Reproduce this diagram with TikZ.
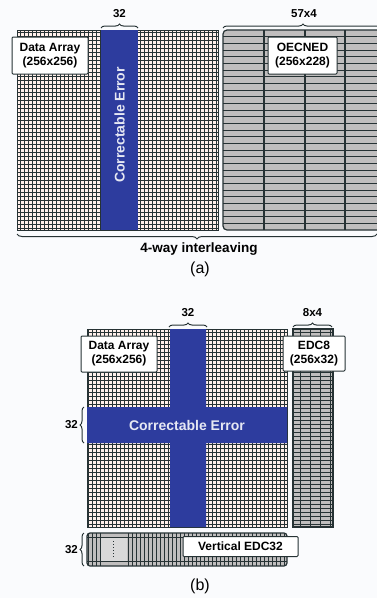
\documentclass[tikz,border=0pt]{standalone}
\usepackage{fontspec}
\setmainfont{Liberation Sans}
\usetikzlibrary{positioning, calc, decorations.pathreplacing}
\definecolor{cblue}{RGB}{45,60,158}
\definecolor{cgrid}{RGB}{38,50,52}
\definecolor{ccell}{RGB}{255,240,235}
\definecolor{cgray}{RGB}{192,190,190}
\definecolor{cbg}{RGB}{250,251,253}

\begin{document}
\begin{tikzpicture}[x=1pt, y=-1pt,
    lbl/.style={draw=cgrid, fill=white, line width=1pt, rounded corners=1pt, align=center, font=\fontsize{12}{14}\selectfont\bfseries, inner sep=2pt},
    num/.style={font=\fontsize{11.5}{13}\selectfont\bfseries, inner sep=1pt},
    errtxt/.style={font=\fontsize{14}{16}\selectfont\bfseries, text=white!88!cblue},
    subcap/.style={font=\fontsize{16}{18}\selectfont},
    brc/.style={decorate, decoration={brace, amplitude=4pt}, line width=1pt, cgrid},
    gridln/.style={cgrid, line width=0.95pt}
]
\fill[cbg] (0,0) rectangle (377,598);
\useasboundingbox (0,0) rectangle (377,598);

% (a) data array with one bad column
\fill[ccell] (17,30) rectangle (218,230);
\draw[gridln, step=4pt] (17,30) grid (218,230);
\draw[gridln] (17,30) rectangle (218,230);
\fill[cblue] (101,30) rectangle (138,230);
\node[errtxt, rotate=90] (erra) at (119.5,125) {Correctable Error};

% (a) OECNED check bits
\fill[cgray, rounded corners=4pt] (223,30) rectangle (385,230);
\foreach \k in {1,...,29}
    \draw[gridln] (223,{30+\k*6.67}) -- (377,{30+\k*6.67});
\foreach \xx in {264,305,345}
    \draw[gridln, line width=1.2pt] (\xx,30) -- (\xx,230);
\draw[gridln, line width=1.2pt, rounded corners=4pt] (385,30) -- (223,30) -- (223,230) -- (385,230);

\node[lbl, minimum width=76pt, minimum height=37pt] (dataa) at (50,55.5) {Data Array\\(256x256)};
\node[lbl, minimum width=69pt, minimum height=37pt] (oecned) at (302.5,55.5) {OECNED\\(256x228)};

\coordinate (ca1) at (101,28);
\coordinate (ca2) at (138,28);
\coordinate (cb1) at (223,28);
\coordinate (cb2) at (383,28);
\coordinate (cc1) at (377,234);
\coordinate (cc2) at (17,234);
\draw[brc] (ca1) -- (ca2);
\draw[brc] (cb1) -- (cb2);
\draw[brc, decoration={amplitude=5pt}] (cc1) -- (cc2);
\node[num] (na) at (119.5,14) {32};
\node[num] (nb) at (304,14) {57x4};
\node[font=\fontsize{13.5}{15}\selectfont\bfseries] (way) at (199,249) {4-way interleaving};
\node[subcap] (capa) at (200,269) {(a)};

% (b) data array with bad row and column
\fill[ccell] (87,329) rectangle (287,527);
\draw[gridln, step=4pt] (87,329) grid (287,527);
\draw[gridln] (87,329) rectangle (287,527);
\fill[cblue] (170,329) rectangle (206,527) (87,407) rectangle (287,443);
\node[errtxt] (errb) at (187,425) {Correctable Error};

% (b) EDC8 column
\fill[cgray] (293,329) rectangle (333,527);
\draw[gridln, xstep=10pt, ystep=4pt] (293,329) grid (333,527);
\draw[gridln, line width=1.2pt] (293,329) rectangle (333,527);

% (b) vertical EDC32 rows
\fill[cgray, rounded corners=3pt] (87,533) rectangle (287,566);
\fill[gray!30] (100,537) rectangle (127,561);
\foreach \xx in {88,92,...,100,128,132,...,286}
    \draw[gridln] (\xx,533) -- (\xx,566);
\draw[gridln] (87,537) -- (287,537);
\draw[gridln] (87,561) -- (287,561);
\draw[gridln, line width=1.2pt, rounded corners=3pt] (87,533) rectangle (287,566);
\draw[cgrid, line width=1pt, dotted] (113,541) -- (113,557);

\node[lbl, minimum width=76pt, minimum height=36pt] (datab) at (119,354) {Data Array\\(256x256)};
\node[lbl, minimum width=62pt, minimum height=35pt] (edc8) at (314,353.5) {EDC8\\(256x32)};
\node[lbl, minimum width=115pt, minimum height=20pt] (edc32) at (240.5,546.5) {Vertical EDC32};

\coordinate (cd1) at (169,327);
\coordinate (cd2) at (207,327);
\coordinate (ce1) at (293,327);
\coordinate (ce2) at (332,327);
\coordinate (cf1) at (84,443);
\coordinate (cf2) at (84,407);
\coordinate (cg1) at (84,566);
\coordinate (cg2) at (84,533);
\draw[brc] (cd1) -- (cd2);
\draw[brc] (ce1) -- (ce2);
\draw[brc] (cf1) -- (cf2);
\draw[brc] (cg1) -- (cg2);
\node[num] (nd) at (188,313) {32};
\node[num] (ne) at (312.5,313) {8x4};
\node[num, anchor=east] (nf) at (79,425) {32};
\node[num, anchor=east] (ng) at (79,549.5) {32};
\node[subcap] (capb) at (200,586) {(b)};
\end{tikzpicture}
\end{document}
